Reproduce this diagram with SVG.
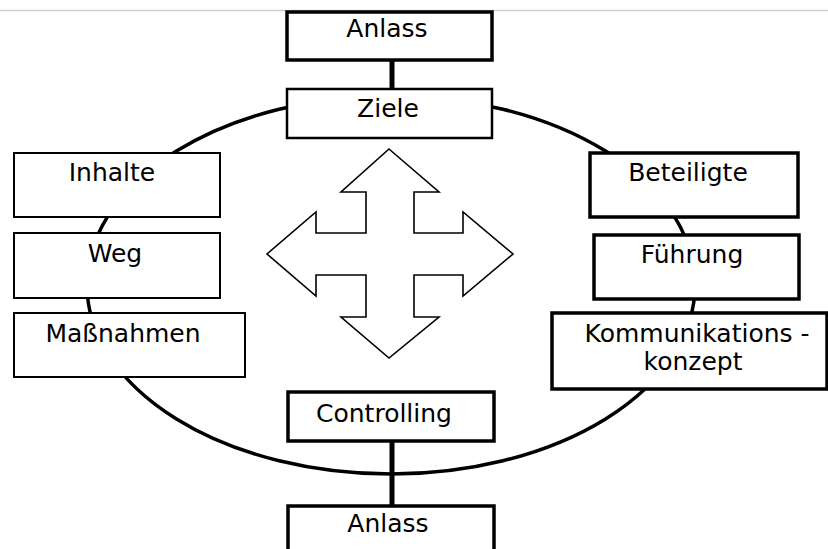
<svg xmlns="http://www.w3.org/2000/svg" width="828" height="549" viewBox="0 0 828 549">
  <style>
    .box { fill: #fff; stroke: #000; stroke-width: 2.5; }
    .thin { stroke-width: 2; }
    .thick { stroke-width: 3.5; }
    .lbl { font-family: "DejaVu Sans", Verdana, sans-serif; font-size: 25px; fill: #000; text-anchor: middle; }
    .link { fill: none; stroke: #000; stroke-width: 3.5; }
    .stem { stroke: #000; stroke-width: 5; }
  </style>
  <rect width="828" height="549" fill="#fff"/>
  <line x1="0" y1="10.5" x2="828" y2="10.5" stroke="#cfcfcf" stroke-width="1.5"/>

  <g id="connectors">
    <ellipse class="link" cx="391" cy="285" rx="304" ry="189"/>
    <line class="stem" x1="392" y1="60" x2="392" y2="89"/>
    <line class="stem" x1="392" y1="441" x2="392" y2="506"/>
  </g>

  <g id="cross">
    <polygon fill="#fff" stroke="#000" stroke-width="1.6"
      points="389,149 439,192 414,192 414,233 463,233 463,212 513,254 463,296 463,275 414,275 414,317 439,317 389,358 341,317 366,317 366,275 316,275 316,296 267,254 316,212 316,233 366,233 366,192 341,192"/>
  </g>

  <g id="anlass-top">
    <rect class="box thick" x="287" y="12" width="205" height="48"/>
    <text class="lbl" x="387" y="37">Anlass</text>
  </g>
  <g id="ziele">
    <rect class="box" x="287" y="89" width="205" height="49"/>
    <text class="lbl" x="388" y="117">Ziele</text>
  </g>
  <g id="inhalte">
    <rect class="box thin" x="14" y="153" width="206" height="64"/>
    <text class="lbl" x="112" y="181">Inhalte</text>
  </g>
  <g id="weg">
    <rect class="box thin" x="14" y="233" width="206" height="65"/>
    <text class="lbl" x="115" y="262">Weg</text>
  </g>
  <g id="massnahmen">
    <rect class="box thin" x="14" y="313" width="231" height="64"/>
    <text class="lbl" x="123" y="342">Maßnahmen</text>
  </g>
  <g id="beteiligte">
    <rect class="box thick" x="590" y="153" width="208" height="64"/>
    <text class="lbl" x="688" y="181">Beteiligte</text>
  </g>
  <g id="fuehrung">
    <rect class="box thick" x="594" y="235" width="205" height="64"/>
    <text class="lbl" x="692" y="263">Führung</text>
  </g>
  <g id="kommunikationskonzept">
    <rect class="box thick" x="552" y="313" width="275" height="76"/>
    <text class="lbl" x="697" y="342">Kommunikations -</text>
    <text class="lbl" x="693" y="370">konzept</text>
  </g>
  <g id="controlling">
    <rect class="box thick" x="288" y="392" width="206" height="49"/>
    <text class="lbl" x="384" y="422">Controlling</text>
  </g>
  <g id="anlass-bottom">
    <rect class="box thick" x="288" y="506" width="206" height="60"/>
    <text class="lbl" x="388" y="532">Anlass</text>
  </g>
</svg>
